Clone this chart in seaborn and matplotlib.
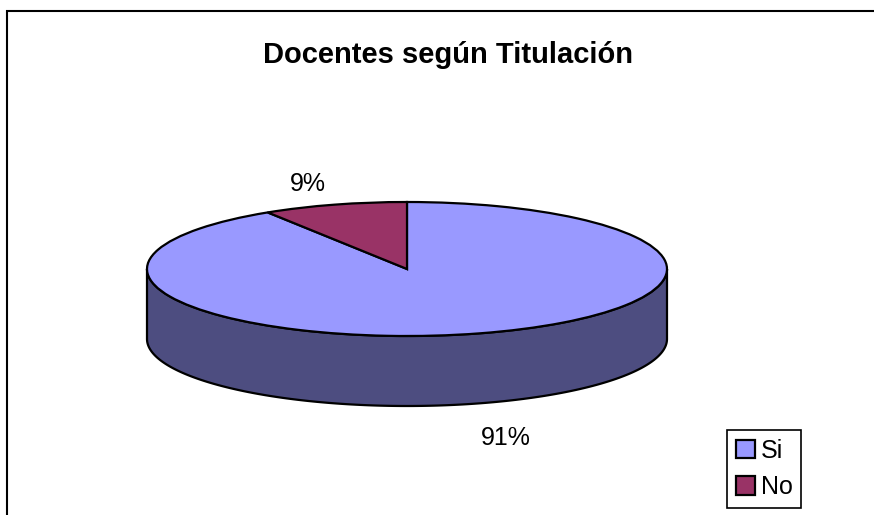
import numpy as np
import matplotlib
matplotlib.use('Agg')
import matplotlib.pyplot as plt
import seaborn as sns
from matplotlib.patches import Rectangle

categories = ['Si', 'No']
values = [91, 9]
pct_labels = ['91%', '9%']
top_colors = ['#9999FF', '#993366']
side_colors = ['#4D4D80', '#4D1A33']

sns.set_theme(style='white')
plt.rcParams['font.family'] = ['Liberation Sans', 'DejaVu Sans']
plt.rcParams['text.color'] = 'black'

W, H = 874, 515
cx, cy = 407, 269      # ellipse centre in pixels
a, b = 260, 67         # semi axes in pixels
depth = 70             # thickness of the pie in pixels
k = a / b              # y stretch so a circle of radius a looks like the ellipse

fig = plt.figure(figsize=(W / 100, H / 100), dpi=100)
ax = fig.add_axes([0, 0, 1, 1])

wedges, _ = ax.pie(values, colors=top_colors, startangle=90, counterclock=False,
                   center=(cx, 0), radius=a,
                   wedgeprops={'edgecolor': 'black', 'linewidth': 1.6, 'zorder': 3})
ax.set_aspect('auto')
ax.set_xlim(0, W)
ax.set_ylim(-(H - cy) * k, cy * k)

# front side of the cylinder, one piece per wedge where it faces the viewer
d = depth * k
for w, sc in zip(wedges, side_colors):
    for shift in (-360, 0, 360):
        t1 = max(w.theta1 + shift, 180)
        t2 = min(w.theta2 + shift, 360)
        if t2 > t1:
            t = np.radians(np.linspace(t1, t2, 200))
            xs = cx + a * np.cos(t)
            ys = a * np.sin(t)
            px = np.concatenate([xs, xs[::-1]])
            py = np.concatenate([ys, ys[::-1] - d])
            ax.fill(px, py, facecolor=sc, edgecolor='black', linewidth=1.6, zorder=2)

# percentage labels outside the pie
for w, lab in zip(wedges, pct_labels):
    mid = np.radians((w.theta1 + w.theta2) / 2)
    lx = cx + a * 1.36 * np.cos(mid)
    ly = a * 1.32 * np.sin(mid)
    if np.sin(mid) < 0:
        ly -= d * 1.2
    ax.text(lx, ly, lab, ha='center', va='center', fontsize=18, color='black', zorder=5)

ax.axis('off')

fig.text(448 / W, 1 - 55 / H, 'Docentes según Titulación', ha='center', va='center',
         fontsize=21, fontweight='bold', color='black')

# chart area border
fig.add_artist(Rectangle((7 / W, -0.05), 1.1, 1.05 - 11 / H, transform=fig.transFigure,
                         fill=False, edgecolor='black', linewidth=1.5))

leg = fig.legend(wedges, categories, loc='lower left',
                 bbox_to_anchor=(727 / W, 1 - 508 / H), frameon=True, fancybox=False,
                 framealpha=1, edgecolor='black', fontsize=18, handlelength=0.75,
                 handleheight=0.75, handletextpad=0.25, borderpad=0.35, labelspacing=0.5,
                 borderaxespad=0)
leg.get_frame().set_linewidth(1.2)
for h in leg.legend_handles:
    h.set_edgecolor('black')
    h.set_linewidth(1.6)
for t in leg.get_texts():
    t.set_color('black')

fig.savefig('out.png', dpi=100)
